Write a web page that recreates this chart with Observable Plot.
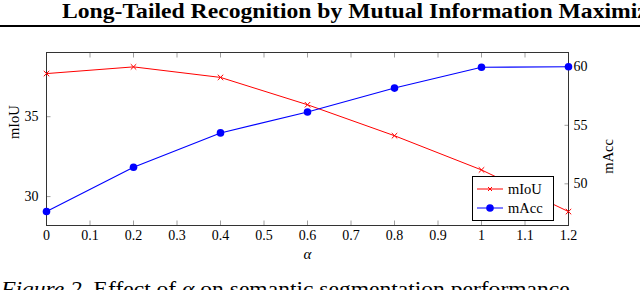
<!DOCTYPE html>
<html>
<head>
<meta charset="utf-8">
<script src="https://cdn.jsdelivr.net/npm/d3@7"></script>
<script src="https://cdn.jsdelivr.net/npm/@observablehq/plot@0.6"></script>
<style>
  html, body { margin: 0; padding: 0; background: #fff; width: 640px; height: 290px; overflow: hidden; position: relative; }
  #title { position: absolute; left: 62px; top: -2px; font: bold 22px "Liberation Serif", serif; white-space: nowrap; color: #000; transform: scaleX(1.075); transform-origin: 0 0; }
  #rule { position: absolute; left: 0; top: 25px; width: 640px; height: 2px; background: #000; }
  #chart { position: absolute; left: 0; top: 30px; }
  #chart svg, #chart svg text { font-family: "Liberation Serif", serif !important; }
  #caption { position: absolute; left: 1px; top: 276px; font: 22px "Liberation Serif", serif; white-space: nowrap; color: #000; transform: scaleX(1.07); transform-origin: 0 0; }
  #legend { position: absolute; left: 472px; top: 176px; width: 80px; height: 43px; border: 1px solid #000; background: #fff; font: 14.5px "Liberation Serif", serif; }
  #legend .row { position: absolute; left: 0; height: 18px; display: flex; align-items: center; }
  #legend svg { display: block; }
</style>
</head>
<body>
<div id="title">Long-Tailed Recognition by Mutual Information Maximization</div>
<div id="rule"></div>
<div id="chart"></div>
<div id="legend"></div>
<div id="caption"><i>Figure 2.</i> Effect of <i>α</i> on semantic segmentation performance</div>
<script>
const alphas = [0, 0.2, 0.4, 0.6, 0.8, 1.0, 1.2];
const mIoU = [37.70, 38.12, 37.46, 35.75, 33.81, 31.67, 29.06];
const mAcc = [47.64, 51.42, 54.35, 56.14, 58.18, 59.96, 60.00];
const xTicks = [0, 0.1, 0.2, 0.3, 0.4, 0.5, 0.6, 0.7, 0.8, 0.9, 1.0, 1.1, 1.2];
const mIoUTicks = [30, 35];
const mAccTicks = [50, 55, 60];
const mIoUDomain = [28.19, 39.02];
const mAccDomain = [46.44, 61.22];

const k = (mIoUDomain[1] - mIoUDomain[0]) / (mAccDomain[1] - mAccDomain[0]);
const accToY = v => mIoUDomain[0] + (v - mAccDomain[0]) * k;
const yToAcc = y => mAccDomain[0] + (y - mIoUDomain[0]) / k;

const rows = alphas.map((a, i) => ({alpha: a, miou: mIoU[i], macc: accToY(mAcc[i])}));
const font = '"Liberation Serif", serif';

const chart = Plot.plot({
  width: 640,
  height: 240,
  marginTop: 22,
  marginBottom: 45,
  marginLeft: 46,
  marginRight: 72,
  x: {domain: [0, 1.2], label: null},
  y: {domain: mIoUDomain, label: null},
  style: {fontFamily: font, fontSize: "14px", color: "#000", background: "#fff"},
  marks: [
    // tick marks (inward)
    Plot.axisX(xTicks, {anchor: "bottom", tickSize: -4.5, stroke: "#a0a0a0", tickFormat: () => "", label: null}),
    Plot.axisX(xTicks, {anchor: "top", tickSize: -4.5, stroke: "#a0a0a0", tickFormat: () => "", label: null}),
    Plot.axisY(mIoUTicks, {anchor: "left", tickSize: -4.5, stroke: "#a0a0a0", tickFormat: () => "", label: null}),
    Plot.axisY(mAccTicks.map(accToY), {anchor: "right", tickSize: -4.5, stroke: "#a0a0a0", tickFormat: () => "", label: null}),
    // tick labels
    Plot.axisX(xTicks, {anchor: "bottom", tickSize: 0, tickPadding: 5, tickFormat: d => String(+d.toFixed(1)), label: null, fontFamily: font}),
    Plot.axisY(mIoUTicks, {anchor: "left", tickSize: 0, tickPadding: 8, label: null, fontFamily: font}),
    Plot.axisY(mAccTicks.map(accToY), {anchor: "right", tickSize: 0, tickPadding: 5, tickFormat: d => String(Math.round(yToAcc(d))), label: null, fontFamily: font}),
    Plot.frame({stroke: "#333", strokeWidth: 1}),
    // series
    Plot.line(rows, {x: "alpha", y: "miou", stroke: "#ff0000", strokeWidth: 1}),
    Plot.dot(rows, {x: "alpha", y: "miou", symbol: "times", r: 2.6, stroke: "#ff0000", strokeWidth: 1}),
    Plot.line(rows, {x: "alpha", y: "macc", stroke: "#0000ff", strokeWidth: 1.1}),
    Plot.dot(rows, {x: "alpha", y: "macc", r: 3.8, fill: "#0000ff", stroke: "none"}),
    // axis titles
    Plot.text(["mIoU"], {text: d => d, frameAnchor: "left", dx: -32, rotate: -90, fontSize: 14.5, fontFamily: font}),
    Plot.text(["mAcc"], {text: d => d, frameAnchor: "right", dx: 40, rotate: -90, fontSize: 14.5, fontFamily: font}),
    Plot.text(["α"], {text: d => d, frameAnchor: "bottom", dy: 33, fontStyle: "italic", fontSize: 15, fontFamily: font})
  ]
});
document.getElementById("chart").appendChild(chart);

// legend
const legendItems = [
  {label: "mIoU", color: "#ff0000", symbol: "times"},
  {label: "mAcc", color: "#0000ff", symbol: "circle"}
];
const legend = document.getElementById("legend");
legendItems.forEach((it, i) => {
  const row = document.createElement("div");
  row.className = "row";
  row.style.top = (3 + i * 19) + "px";
  const ns = "http://www.w3.org/2000/svg";
  const svg = document.createElementNS(ns, "svg");
  svg.setAttribute("width", 34);
  svg.setAttribute("height", 18);
  const ln = document.createElementNS(ns, "line");
  ln.setAttribute("x1", 4); ln.setAttribute("x2", 30); ln.setAttribute("y1", 9); ln.setAttribute("y2", 9);
  ln.setAttribute("stroke", it.color); ln.setAttribute("stroke-width", 1);
  svg.appendChild(ln);
  if (it.symbol === "circle") {
    const c = document.createElementNS(ns, "circle");
    c.setAttribute("cx", 17); c.setAttribute("cy", 9); c.setAttribute("r", 3.8); c.setAttribute("fill", it.color);
    svg.appendChild(c);
  } else {
    const p = document.createElementNS(ns, "path");
    p.setAttribute("d", "M15,7L19,11M15,11L19,7");
    p.setAttribute("stroke", it.color); p.setAttribute("stroke-width", 1);
    svg.appendChild(p);
  }
  row.appendChild(svg);
  const t = document.createElement("span");
  t.textContent = it.label;
  t.style.marginLeft = "1px";
  row.appendChild(t);
  legend.appendChild(row);
});
</script>
</body>
</html>
